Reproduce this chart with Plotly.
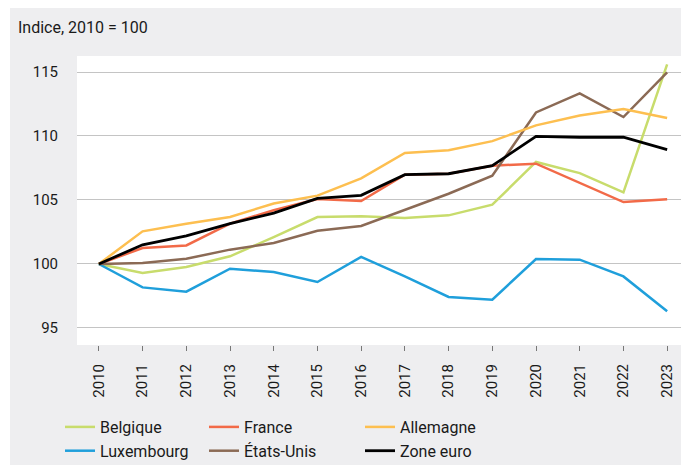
import plotly.graph_objects as go

years = list(range(2010, 2024))
tick_labels = [str(y) for y in years]

belgique   = [100, 99.30, 99.77, 100.6, 102.1, 103.67, 103.72, 103.59, 103.80, 104.63, 107.97, 107.10, 105.60, 115.6]
france     = [100, 101.25, 101.45, 103.15, 104.2, 105.08, 104.92, 106.98, 107.05, 107.68, 107.84, 106.33, 104.84, 105.05]
allemagne  = [100, 102.55, 103.15, 103.67, 104.73, 105.34, 106.69, 108.67, 108.88, 109.60, 110.83, 111.60, 112.10, 111.40]
luxembourg = [100, 98.17, 97.84, 99.63, 99.37, 98.59, 100.55, 99.03, 97.42, 97.21, 100.39, 100.34, 99.03, 96.30]
etats_unis = [100, 100.08, 100.41, 101.12, 101.64, 102.60, 102.97, 104.20, 105.49, 106.90, 111.84, 113.33, 111.48, 114.97]
zone_euro  = [100, 101.50, 102.20, 103.15, 103.98, 105.13, 105.36, 106.98, 107.05, 107.68, 109.97, 109.90, 109.90, 108.93]

series = [
    ("Belgique", belgique, "#c8dc6c", "legend", 2.5),
    ("Luxembourg", luxembourg, "#1f9fdb", "legend", 2.5),
    ("France", france, "#f26a48", "legend2", 2.5),
    ("États-Unis", etats_unis, "#8b6a55", "legend2", 2.5),
    ("Allemagne", allemagne, "#fdbf50", "legend3", 2.5),
    ("Zone euro", zone_euro, "#000000", "legend3", 2.8),
]

FONT = "Roboto, Liberation Sans, sans-serif"
FS = 15
FS_LEG = 16

fig = go.Figure()
for name, vals, color, leg, w in series:
    fig.add_trace(go.Scatter(
        x=years, y=vals, mode="lines", name=name,
        line=dict(color=color, width=w),
        legend=leg, legendgroup=name,
    ))

# page is offset by the 8px body margin
OFF = 8
W, H = 689 - OFF, 465 - OFF
ml, mr, mt, mb = 77 - OFF, 0, 56 - OFF, 120
pw = W - ml - mr
ph = H - mt - mb

def px_x(page_x):
    return (page_x - OFF - ml) / pw

def px_y(page_y):
    return (H - mb - (page_y - OFF)) / ph

legend_common = dict(
    orientation="v", xanchor="left", yanchor="top",
    bgcolor="rgba(0,0,0,0)", font=dict(family=FONT, size=FS_LEG, color="#1a1a1a"),
    tracegroupgap=0, itemwidth=30,
)

fig.update_layout(
    width=W, height=H,
    margin=dict(l=ml, r=mr, t=mt, b=mb, autoexpand=False),
    paper_bgcolor="#eeeef0",
    plot_bgcolor="#ffffff",
    font=dict(family=FONT, size=FS, color="#1a1a1a"),
    showlegend=True,
    legend=dict(x=px_x(60), y=px_y(410), **legend_common),
    legend2=dict(x=px_x(204), y=px_y(410), **legend_common),
    legend3=dict(x=px_x(360), y=px_y(410), **legend_common),
    xaxis=dict(
        range=[2009.5, 2023.5],
        tickmode="array", tickvals=years, ticktext=tick_labels,
        tickangle=-90, ticks="outside", ticklen=5, tickcolor="#777777", tickwidth=1,
        ticklabelstandoff=7,
        showgrid=False, zeroline=False, showline=False,
        tickfont=dict(family=FONT, size=FS, color="#1a1a1a"),
    ),
    yaxis=dict(
        range=[93.67, 116.25],
        tickvals=[95, 100, 105, 110, 115],
        showgrid=True, gridcolor="#c4c4c4", gridwidth=1,
        zeroline=False, showline=False, ticks="",
        ticklabelstandoff=18,
        tickfont=dict(family=FONT, size=FS, color="#1a1a1a"),
    ),
    shapes=[
        dict(type="rect", xref="paper", yref="paper", x0=px_x(0), x1=px_x(10), y0=px_y(470), y1=px_y(0),
             fillcolor="#ffffff", line=dict(width=0), layer="above"),
    ],
    annotations=[
        dict(text="Indice, 2010 = 100", xref="paper", yref="paper",
             x=px_x(16), y=px_y(27), xanchor="left", yanchor="middle",
             showarrow=False, font=dict(family=FONT, size=16, color="#1a1a1a")),
    ],
)

fig.write_html("out.html", post_script="document.body.style.overflow='hidden';")
